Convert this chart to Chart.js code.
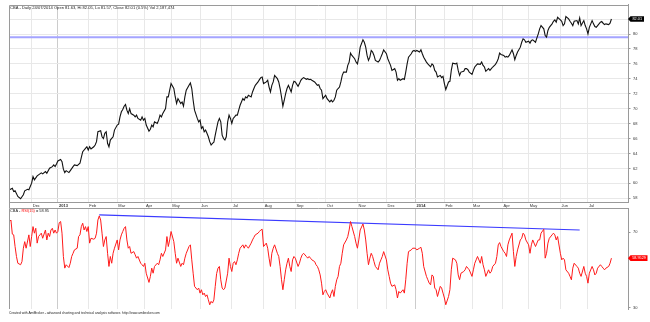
<!DOCTYPE html>
<html>
<head>
<meta charset="utf-8">
<script src="https://cdn.jsdelivr.net/npm/chart.js@4.4.1/dist/chart.umd.min.js"></script>
<style>
  html, body { margin: 0; padding: 0; background: #fff; }
  #wrap { position: relative; width: 650px; height: 322px; overflow: hidden; }
  #priceBox { position: absolute; left: 0; top: 0; width: 650px; height: 210px; }
  #rsiBox { position: absolute; left: 0; top: 200px; width: 650px; height: 122px; }
</style>
</head>
<body>
<div id="wrap">
  <div id="priceBox"><canvas id="priceChart" width="650" height="210"></canvas></div>
  <div id="rsiBox"><canvas id="rsiChart" width="650" height="122"></canvas></div>
</div>
<script>
// bar number = trading day counted from the first bar on the chart (mid Nov 2012)
const priceBars = [
  0,2,3,4,6,8,10,11,13,14,
  16,17,18,20,22,23,24,26,27,29,
  31,32,33,34,35,37,38,39,40,41,
  43,44,46,47,49,51,52,53,55,56,
  57,58,59,61,62,63,64,66,67,68,
  69,70,71,72,73,74,75,76,78,79,
  80,81,82,83,84,85,86,87,88,90,
  91,92,93,95,96,97,98,99,101,102,
  103,104,105,107,108,109,110,111,113,114,
  115,116,117,119,120,121,122,124,125,126,
  127,128,130,131,132,133,134,136,137,138,
  139,140,141,142,143,144,145,146,147,148,
  149,150,151,152,153,154,155,156,157,158,
  159,160,161,162,163,164,165,166,167,169,
  170,171,172,173,175,176,177,178,180,181,
  182,183,184,186,187,188,189,190,191,192,
  194,195,196,197,198,199,200,201,202,203,
  204,205,206,207,209,210,211,212,213,215,
  216,217,218,219,221,222,223,224,225,226,
  227,228,229,230,232,233,234,235,236,237,
  238,239,240,241,242,244,245,246,247,248,
  250,251,252,253,254,256,257,258,259,260,
  261,262,263,264,265,267,268,269,270,271,
  273,274,275,276,277,279,280,281,282,283,
  285,286,287,288,289,291,292,293,294,295,
  297,298,299,300,302,303,304,305,306,307,
  308,309,310,312,313,314,315,316,318,319,
  320,321,323,324,325,326,327,329,330,331,
  332,333,335,336,337,338,339,341,342,343,
  344,345,347,348,349,350,352,353,354,355,
  356,358,359,360,361,362,364,365,366,367,
  368,370,371,372,373,374,376,377,378,379,
  381,382,383,384,385,387,388,389,390,391,
  393,394,395,396,397,399,400,401,402,403,
  405,406,407,408,409,411,412,413,414,416,
  417,418,419,420,422,423,424,425,426,428,
  429,430,431,432,434,435,436
];
const priceVals = [
  59.13,59.35,58.9,59.0,58.24,57.93,58.47,59.0,59.2,59.13,
  60.02,60.9,60.47,61.0,61.27,61.4,61.27,61.58,61.36,62.02,
  62.24,62.47,62.24,62.6,63.0,63.2,62.91,61.9,61.44,61.7,
  61.44,61.7,62.24,62.47,62.38,62.69,63.49,64.24,64.69,64.9,
  64.46,64.9,64.6,64.9,65.13,65.58,66.91,67.04,66.24,66.0,
  66.7,66.91,65.36,64.9,65.8,66.02,66.24,67.13,67.8,67.93,
  68.9,69.58,69.9,70.33,70.56,69.8,69.35,70.0,69.35,69.13,
  68.9,69.13,68.7,68.47,68.9,68.47,68.69,67.8,67.0,67.24,
  67.8,67.58,68.24,68.02,68.47,69.13,68.9,69.35,70.02,71.58,
  71.58,72.47,73.36,72.7,71.6,70.7,71.35,70.7,70.9,70.33,
  71.58,72.47,73.13,73.44,72.7,71.13,69.8,68.7,68.24,68.47,
  67.35,67.58,66.91,67.13,66.7,66.24,65.58,65.13,65.36,65.5,
  66.46,67.35,68.24,68.69,68.24,66.46,66.0,65.8,66.24,68.24,
  69.13,68.69,68.02,68.69,68.9,69.13,69.13,69.8,70.46,71.35,
  71.13,71.58,71.44,71.8,71.58,72.24,72.7,73.13,73.58,73.89,
  74.16,74.24,73.36,73.58,73.8,72.9,72.24,73.13,73.58,74.46,
  74.02,73.58,72.7,71.58,70.33,71.13,72.02,72.7,73.13,72.7,
  72.24,73.13,73.67,73.58,73.0,73.36,73.8,74.02,74.16,73.93,
  74.02,73.89,73.93,73.8,73.58,73.36,73.13,73.2,72.7,72.47,
  71.35,71.58,71.8,71.35,70.9,71.13,70.9,71.13,71.58,72.47,
  72.7,72.9,73.58,74.46,74.9,74.9,75.8,76.24,77.44,77.13,
  76.69,76.24,76.0,76.9,78.24,79.22,78.9,78.24,77.13,76.47,
  76.9,77.8,77.58,77.13,76.47,76.24,76.47,76.9,77.36,77.88,
  77.36,76.69,76.24,75.8,75.13,75.36,74.9,73.8,74.02,73.8,
  74.02,73.93,74.9,76.0,76.9,77.36,77.7,77.8,77.67,77.8,
  77.58,77.88,77.36,76.9,76.24,76.0,75.8,75.6,76.0,75.8,
  75.13,74.9,74.24,74.46,74.16,74.33,73.36,72.56,73.58,73.67,
  75.13,76.1,76.0,76.1,75.13,74.46,74.9,75.02,75.36,75.36,
  75.22,74.9,74.6,75.13,75.58,75.8,76.0,75.93,76.24,75.8,
  75.58,75.0,75.36,75.13,75.36,75.58,75.93,76.24,76.69,77.44,
  77.27,77.13,76.9,77.0,76.9,77.13,77.88,77.36,76.56,77.13,
  77.58,78.24,78.9,79.36,79.22,78.9,79.04,78.78,79.13,79.22,
  78.9,79.49,80.02,80.69,81.13,80.69,79.8,79.58,80.47,80.9,
  81.36,81.71,81.89,81.58,82.24,81.89,81.71,81.13,81.36,82.33,
  82.02,81.71,81.44,81.13,81.71,81.8,81.36,82.16,81.13,81.8,
  81.13,80.69,80.02,80.9,81.8,81.36,81.0,80.9,81.13,81.58,
  81.67,81.44,81.27,81.36,81.27,81.44,82.01
];

const rsiBars = [
  0,1,2,3,4,5,6,8,9,10,
  11,12,14,15,16,17,18,19,20,21,
  22,23,24,26,27,28,29,30,31,32,
  33,34,35,36,37,38,39,40,41,43,
  44,45,46,47,49,50,51,52,53,54,
  55,56,57,58,59,61,62,63,64,65,
  66,67,68,69,70,71,72,73,74,75,
  76,78,79,80,81,82,83,84,85,86,
  87,88,90,91,92,93,95,96,97,98,
  99,101,102,103,104,105,107,108,109,110,
  111,113,114,115,116,117,119,120,121,122,
  124,125,126,127,128,130,131,132,133,134,
  136,137,138,139,140,141,142,143,144,145,
  146,147,148,149,150,151,152,153,154,155,
  156,158,159,160,161,162,163,164,165,166,
  167,169,170,171,172,173,175,176,177,178,
  180,181,182,183,184,186,187,188,189,190,
  191,192,194,195,196,197,198,199,200,201,
  202,203,204,205,206,207,209,210,211,212,
  213,215,216,217,218,219,221,222,223,224,
  225,226,227,228,229,230,232,233,234,235,
  236,237,238,239,240,241,242,244,245,246,
  247,248,250,251,252,253,254,256,257,258,
  259,260,261,262,263,264,265,267,268,269,
  270,271,273,274,275,276,277,279,280,281,
  282,283,285,286,287,288,289,291,292,293,
  294,295,297,298,299,300,302,303,304,305,
  306,307,308,309,310,312,313,314,315,316,
  318,319,320,321,323,324,325,326,327,329,
  330,331,332,333,335,336,337,338,339,341,
  342,343,344,345,347,348,349,350,352,353,
  354,355,356,358,359,360,361,362,364,365,
  366,367,368,370,371,372,373,374,376,377,
  378,379,381,382,383,384,385,387,388,389,
  390,391,393,394,395,396,397,399,400,401,
  402,403,405,406,407,408,409,411,412,413,
  414,416,417,418,419,420,422,423,424,425,
  426,428,429,430,431,432,434,435,436
];
const rsiVals = [
  75.7,76.5,69.0,68.6,62.4,57.1,53.5,52.7,54.4,61.5,
  65.0,61.5,68.6,62.4,67.7,73.0,69.5,72.1,64.2,67.7,
  68.6,69.5,66.8,71.2,65.9,69.5,67.7,71.2,72.1,69.5,
  71.2,69.5,70.4,75.1,75.7,69.5,57.1,50.9,52.7,51.2,
  53.5,57.1,58.8,60.6,61.5,67.7,68.6,73.0,74.8,71.2,
  73.0,70.4,73.0,64.2,66.8,66.3,66.8,69.5,76.5,78.7,
  76.5,69.5,62.4,65.9,67.7,58.8,51.8,57.1,53.5,58.8,
  61.5,65.9,60.6,65.9,68.6,70.4,72.1,73.0,65.9,61.5,
  62.4,58.8,59.7,58.0,56.2,57.1,53.5,52.7,51.8,53.5,
  48.2,43.3,46.5,50.9,48.2,51.8,53.5,52.7,55.3,58.8,
  57.1,60.6,67.7,62.4,65.9,70.4,65.0,58.8,53.5,56.2,
  51.8,53.5,52.7,56.2,58.8,62.4,63.3,55.3,48.2,41.2,
  39.4,40.3,37.6,39.4,36.7,37.6,35.8,36.7,34.1,31.4,
  33.2,32.3,34.0,41.2,48.0,50.9,51.8,44.7,40.3,39.4,
  40.3,48.2,56.2,51.8,49.1,53.5,54.4,52.7,55.3,58.8,
  61.5,63.3,61.5,63.3,62.4,61.5,64.2,65.9,67.3,68.6,
  69.5,70.4,71.2,71.6,62.4,64.2,61.5,56.2,51.8,58.8,
  61.5,63.3,58.8,57.1,51.8,44.7,39.4,44.7,50.0,53.5,
  56.2,51.8,49.1,55.3,57.1,56.2,51.8,53.5,56.2,58.0,
  58.8,57.1,56.2,57.1,56.2,55.3,54.4,52.7,51.8,50.0,
  47.3,42.9,36.7,38.5,39.4,37.6,35.0,37.6,39.4,35.8,
  41.2,44.7,46.5,51.8,53.5,58.8,63.3,65.9,67.7,71.2,
  75.7,73.0,67.7,64.2,61.5,65.9,71.2,74.4,71.2,65.9,
  58.8,52.7,56.2,58.8,57.1,54.4,51.8,50.0,53.5,55.3,
  57.1,59.7,55.3,50.0,46.5,42.9,41.2,42.0,39.4,35.0,
  38.5,37.6,39.4,37.6,44.7,53.5,59.7,60.6,61.5,61.5,
  61.5,60.6,61.5,62.0,58.8,51.8,46.5,44.7,42.9,42.0,
  47.3,46.5,40.3,39.4,35.8,41.2,40.3,37.6,35.0,31.4,
  35.8,39.4,50.0,56.2,55.3,53.5,47.3,44.7,48.2,49.1,
  50.0,51.8,50.9,50.0,46.5,50.0,53.5,55.3,57.1,53.5,
  57.1,52.7,50.0,46.5,50.0,48.2,49.1,51.8,53.5,57.1,
  63.3,64.5,62.4,59.7,58.8,57.1,63.3,65.9,69.5,59.7,
  51.8,57.1,60.6,65.9,66.8,69.5,68.6,65.9,63.3,58.8,
  63.3,65.9,62.4,64.2,65.9,65.9,69.5,71.6,56.2,58.8,
  64.2,66.8,68.6,69.5,68.6,65.9,67.7,58.8,55.3,56.2,
  55.3,50.0,48.2,46.5,44.7,50.9,53.5,51.8,50.9,48.2,
  46.5,51.8,48.2,46.5,42.9,48.2,51.8,50.0,47.3,48.2,
  50.9,52.7,51.8,50.9,50.0,50.9,51.8,53.5,56.2
];

// first bar of each month
const monthBars = [16,35,57,78,98,117,138,161,184,207,229,252,273,294,315,335,357,376,399,419];
const monthLabels = ['Dec','2013','Feb','Mar','Apr','May','Jun','Jul','Aug','Sep','Oct','Nov','Dec','2014','Feb','Mar','Apr','May','Jun','Jul'];
const priceTicks = [58,60,62,64,66,68,70,72,74,76,78,80,82];
const rsiTicks = [30,70];

// drawn study lines
const resistance = 79.58;
const trendBars = [65, 413];
const trendVals = [79.2, 71.2];

const titleText = 'CBA - Daily 24/07/2014 Open 81.63, Hi 82.05, Lo 81.57, Close 82.01 (0.5%) Vol 2,187,474';
const rsiName = 'RSI(15)';
const rsiLast = '58.95';
const rsiBadge = '58.9529';
const footerText = 'Created with AmiBroker - advanced charting and technical analysis software. http://www.amibroker.com';

const xMin = -0.4, xMax = 448;
const fontFamily = '"Liberation Sans", Arial, sans-serif';

Chart.defaults.font.family = fontFamily;
Chart.defaults.font.size = 4;
Chart.defaults.color = '#333';
Chart.defaults.animation = false;

function pts(bars, vals) {
  return bars.map((b, i) => ({ x: b, y: vals[i] }));
}

function isYear(i) {
  return monthLabels[i] && monthLabels[i].length === 4;
}

function drawBadge(ctx, x, y, w, color, text) {
  ctx.fillStyle = color;
  ctx.beginPath();
  ctx.moveTo(x, y);
  ctx.lineTo(x + 2.5, y - 2.8);
  ctx.lineTo(x + w, y - 2.8);
  ctx.lineTo(x + w, y + 2.8);
  ctx.lineTo(x + 2.5, y + 2.8);
  ctx.closePath();
  ctx.fill();
  ctx.fillStyle = '#fff';
  ctx.font = '3.8px ' + fontFamily;
  ctx.textAlign = 'center';
  ctx.textBaseline = 'middle';
  ctx.fillText(text, x + 2.5 + (w - 2.5) / 2, y + 0.2);
}

function xScale(showLabels, height) {
  return {
    type: 'linear',
    min: xMin,
    max: xMax,
    afterBuildTicks: s => { s.ticks = monthBars.map(v => ({ value: v })); },
    afterFit: s => { s.height = height; },
    ticks: {
      display: showLabels,
      autoSkip: false,
      maxRotation: 0,
      minRotation: 0,
      align: 'start',
      padding: 1.5,
      color: '#333',
      font: ctx => ({ size: 4, weight: isYear(ctx.index) ? 'bold' : 'normal' }),
      callback: (v, i) => ' ' + monthLabels[i]
    },
    grid: {
      drawTicks: false,
      color: ctx => isYear(ctx.index) ? '#cccccc' : '#e8e8e8',
      lineWidth: 1
    },
    border: { display: showLabels, color: '#9a9a9a' }
  };
}

// left and top edges of a panel
function drawFrame(ctx, a, bottom) {
  ctx.strokeStyle = '#9a9a9a';
  ctx.lineWidth = 1;
  ctx.beginPath();
  ctx.moveTo(Math.round(a.left) + 0.5, bottom);
  ctx.lineTo(Math.round(a.left) + 0.5, Math.round(a.top) + 0.5);
  ctx.lineTo(a.right, Math.round(a.top) + 0.5);
  ctx.stroke();
}

const pricePanel = {
  id: 'pricePanel',
  afterDraw(chart) {
    const { ctx, chartArea: a } = chart;
    const y = chart.scales.y;
    ctx.save();
    drawFrame(ctx, a, a.bottom + 6);
    ctx.fillStyle = '#222';
    ctx.font = '4.1px ' + fontFamily;
    ctx.textAlign = 'left';
    ctx.textBaseline = 'middle';
    ctx.fillText(titleText, a.left + 1, a.top + 3);
    const last = priceVals[priceVals.length - 1];
    drawBadge(ctx, a.right, y.getPixelForValue(last), 16, '#000', last.toFixed(2));
    ctx.restore();
  }
};

const rsiPanel = {
  id: 'rsiPanel',
  afterDraw(chart) {
    const { ctx, chartArea: a } = chart;
    const y = chart.scales.y;
    ctx.save();
    drawFrame(ctx, a, a.bottom);
    ctx.font = '3.9px ' + fontFamily;
    ctx.textAlign = 'left';
    ctx.textBaseline = 'middle';
    let tx = a.left + 1;
    const ty = a.top + 3;
    const parts = [['CBA - ', '#222'], [rsiName, '#ff0000'], [' = ' + rsiLast, '#222']];
    parts.forEach(([t, c]) => {
      ctx.fillStyle = c;
      ctx.fillText(t, tx, ty);
      tx += ctx.measureText(t).width;
    });
    ctx.fillStyle = '#222';
    ctx.font = '3.3px ' + fontFamily;
    ctx.fillText(footerText, a.left, a.bottom + 4);
    drawBadge(ctx, a.right, y.getPixelForValue(rsiVals[rsiVals.length - 1]), 19.5, '#ff0000', rsiBadge);
    ctx.restore();
  }
};

new Chart(document.getElementById('priceChart'), {
  type: 'line',
  data: {
    datasets: [
      { data: pts(priceBars, priceVals), borderColor: '#111', borderWidth: 1.1, pointRadius: 0, tension: 0, order: 0 },
      { data: [{ x: xMin, y: resistance }, { x: xMax, y: resistance }], borderColor: '#a4a4ff', borderWidth: 2, pointRadius: 0, order: 1 }
    ]
  },
  options: {
    responsive: false,
    maintainAspectRatio: false,
    layout: { autoPadding: false, padding: { left: 9, top: 4, right: 0, bottom: 0 } },
    plugins: { legend: { display: false }, tooltip: { enabled: false } },
    scales: {
      x: xScale(true, 8),
      y: {
        type: 'linear',
        position: 'right',
        min: 57.5,
        max: 83.9,
        afterBuildTicks: s => { s.ticks = priceTicks.map(v => ({ value: v })); },
        afterFit: s => { s.width = 22; },
        ticks: { padding: 2.5, color: '#333', font: { size: 4 } },
        grid: { color: '#e8e8e8', tickLength: 2.5, tickColor: '#9a9a9a' },
        border: { color: '#9a9a9a' }
      }
    }
  },
  plugins: [pricePanel]
});

new Chart(document.getElementById('rsiChart'), {
  type: 'line',
  data: {
    datasets: [
      { data: pts(rsiBars, rsiVals), borderColor: '#ff1a1a', borderWidth: 1, pointRadius: 0, tension: 0, order: 0 },
      { data: pts(trendBars, trendVals), borderColor: '#3b3bff', borderWidth: 1.2, pointRadius: 0, order: 1 }
    ]
  },
  options: {
    responsive: false,
    maintainAspectRatio: false,
    layout: { autoPadding: false, padding: { left: 9, top: 8, right: 0, bottom: 13 } },
    plugins: { legend: { display: false }, tooltip: { enabled: false } },
    scales: {
      x: xScale(false, 0),
      y: {
        type: 'linear',
        position: 'right',
        min: 29.15,
        max: 82.9,
        afterBuildTicks: s => { s.ticks = rsiTicks.map(v => ({ value: v })); },
        afterFit: s => { s.width = 22; },
        ticks: { padding: 2.5, color: '#333', font: { size: 4 } },
        grid: { drawOnChartArea: false, tickLength: 2.5, tickColor: '#9a9a9a' },
        border: { color: '#9a9a9a' }
      }
    }
  },
  plugins: [rsiPanel]
});
</script>
</body>
</html>
